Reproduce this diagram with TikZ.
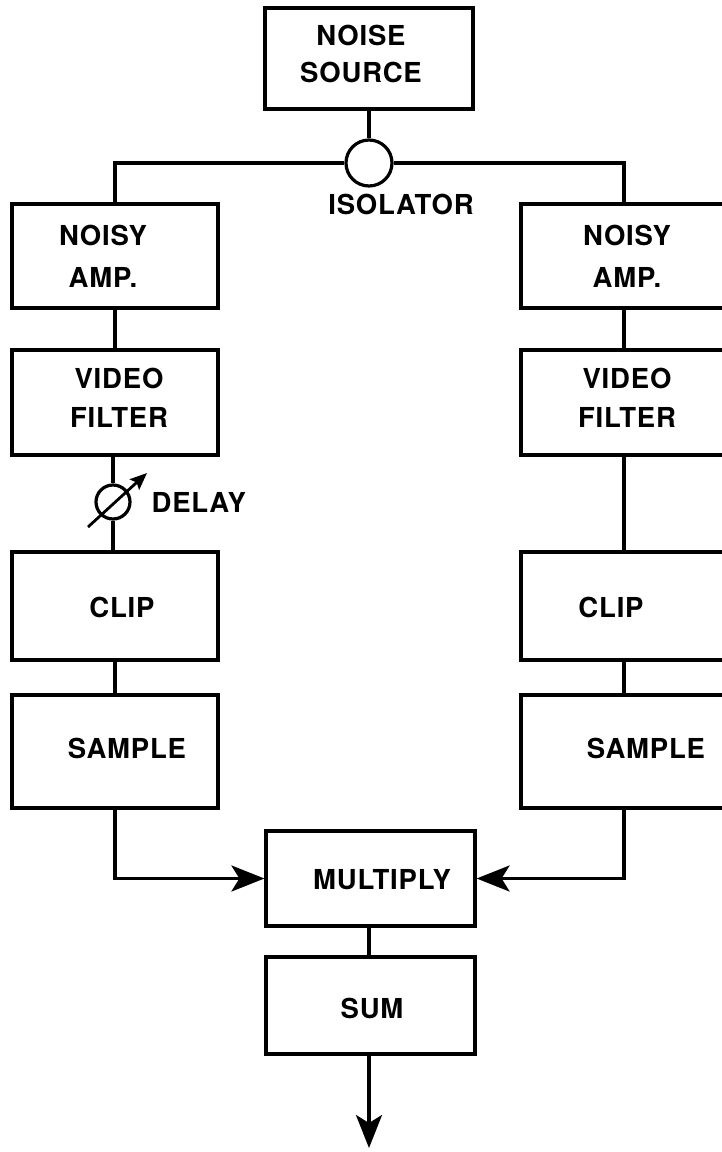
\documentclass[tikz,border=0pt]{standalone}
\usepackage{fontspec}
\setmainfont[LetterSpace=3]{TeX Gyre Heros}
\usetikzlibrary{arrows.meta}
\begin{document}
\begin{tikzpicture}[x=1pt,y=-1pt,line width=3.2pt,
  blk/.style={draw,line width=3.2pt,minimum width=206pt,minimum height=#1,inner sep=0pt},
  blk/.default=104pt,
  lbl/.style={font=\bfseries\fontsize{27.5}{40}\selectfont,align=center,inner sep=0pt},
  tip/.style={-{Stealth[length=33pt,width=26pt,inset=8pt]}},
  ring/.style={draw,circle,line width=3.2pt,inner sep=0pt}]
\useasboundingbox (0,0) rectangle (722,1152);
\clip (0,0) rectangle (722,1152);
% boxes
\node[blk=101pt,minimum width=208pt] (ns) at (369,58.5) {};
\node[ring,minimum size=46pt] (iso) at (369,163) {};
\node[blk] (ampL) at (115,256) {};
\node[blk] (ampR) at (624,256) {};
\node[blk=105pt] (vfL) at (115,402.5) {};
\node[blk=105pt] (vfR) at (624,402.5) {};
\node[ring,minimum size=34pt] (dly) at (113,502) {};
\node[blk=108pt] (clipL) at (115,606) {};
\node[blk=108pt] (clipR) at (624,606) {};
\node[blk=113pt] (smpL) at (115,751.5) {};
\node[blk=113pt] (smpR) at (624,751.5) {};
\node[blk=95pt,minimum width=209pt] (mul) at (370.5,878.5) {};
\node[blk=97pt,minimum width=209pt] (sum) at (370.5,1005.5) {};
% labels
\node[lbl,font=\bfseries\fontsize{27.5}{37}\selectfont] (tns) at (361,54) {NOISE\\SOURCE};
\node[lbl] (tiso) at (401,204) {ISOLATOR};
\node[lbl,font=\bfseries\fontsize{27.5}{42}\selectfont] (tampL) at (103,256) {NOISY\\AMP.};
\node[lbl,font=\bfseries\fontsize{27.5}{42}\selectfont] (tampR) at (627,256) {NOISY\\AMP.};
\node[lbl,font=\bfseries\fontsize{27.5}{39}\selectfont] (tvfL) at (119,398) {VIDEO\\FILTER};
\node[lbl,font=\bfseries\fontsize{27.5}{39}\selectfont] (tvfR) at (627,398) {VIDEO\\FILTER};
\node[lbl,anchor=west] (tdly) at (150,502) {DELAY};
\node[lbl] (tclipL) at (122,607) {CLIP};
\node[lbl] (tclipR) at (611,607) {CLIP};
\node[lbl] (tsmpL) at (127,748) {SAMPLE};
\node[lbl] (tsmpR) at (646,748) {SAMPLE};
\node[lbl] (tmul) at (382,880) {MULTIPLY};
\node[lbl] (tsum) at (372,1008) {SUM};
% connectors
\coordinate (cL) at (115,163);
\coordinate (cR) at (624,163);
\draw (ns.south) -- (iso.north);
\draw (iso.west) -- (cL) -- (ampL.north);
\draw (iso.east) -- (cR) -- (ampR.north);
\draw (ampL) -- (vfL);
\draw (ampR) -- (vfR);
\draw (vfL.south -| dly.north) -- (dly.north);
\draw (dly.south) -- (clipL.north -| dly.south);
\coordinate (da) at (88,527);
\coordinate (db) at (147,473);
\draw[line width=2.8pt,-{Stealth[length=17pt,width=14pt,inset=3pt]}] (da) -- (db);
\draw (vfR) -- (clipR);
\draw (clipL) -- (smpL);
\draw (clipR) -- (smpR);
\draw[tip] (smpL.south) |- (mul.west);
\draw[tip] (smpR.south) |- (mul.east);
\draw (mul.south -| 369,0) -- (sum.north -| 369,0);
\coordinate (out) at (369,1148);
\draw[tip] (sum.south -| out) -- (out);
\end{tikzpicture}
\end{document}
